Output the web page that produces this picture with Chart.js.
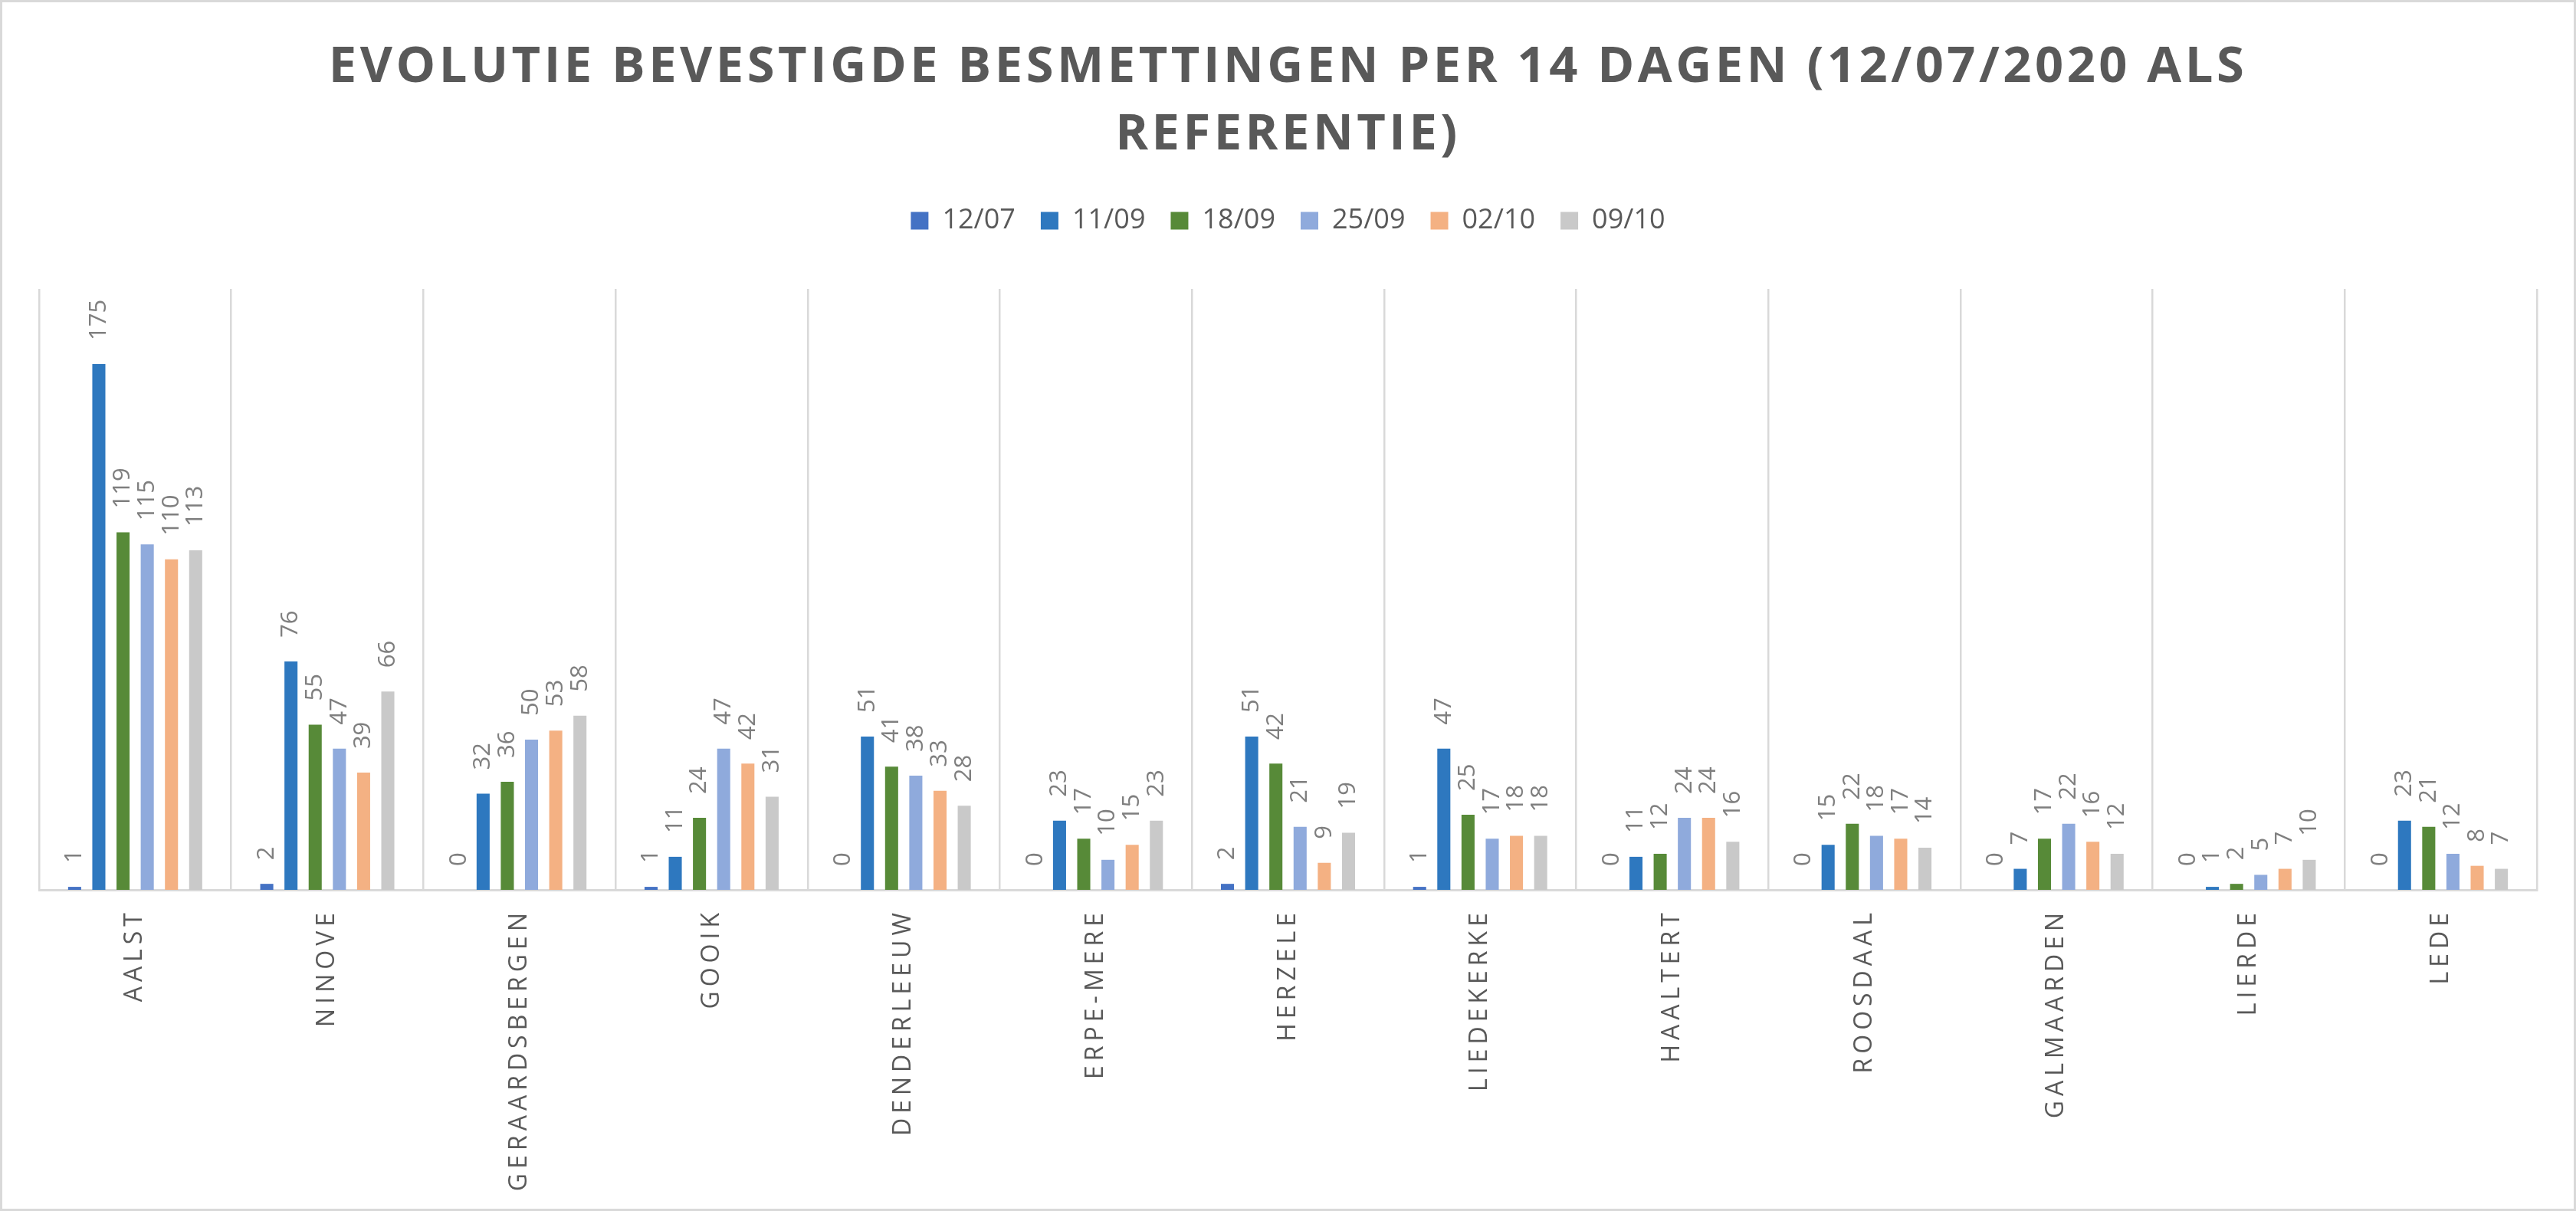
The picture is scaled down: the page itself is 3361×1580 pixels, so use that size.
<!DOCTYPE html>
<html>
<head>
<meta charset="utf-8">
<script src="https://cdn.jsdelivr.net/npm/chart.js@4.4.1/dist/chart.umd.min.js"></script>
<style>
  html, body { margin: 0; padding: 0; background: #fff; }
  #wrap { width: 3361px; height: 1580px; }
</style>
</head>
<body>
<div id="wrap"><canvas id="chart" width="3361" height="1580"></canvas></div>
<script>
// Titel en categorieën
const titelRegels = ['EVOLUTIE BEVESTIGDE BESMETTINGEN PER 14 DAGEN (12/07/2020 ALS', 'REFERENTIE)']
const gemeenten = ['AALST', 'NINOVE', 'GERAARDSBERGEN', 'GOOIK', 'DENDERLEEUW', 'ERPE-MERE', 'HERZELE',
  'LIEDEKERKE', 'HAALTERT', 'ROOSDAAL', 'GALMAARDEN', 'LIERDE', 'LEDE']
const datums = ['12/07', '11/09', '18/09', '25/09', '02/10', '09/10']

// Bevestigde besmettingen per 14 dagen, per gemeente
const d1207 = [1, 2, 0, 1, 0, 0, 2, 1, 0, 0, 0, 0, 0]
const d1109 = [175, 76, 32, 11, 51, 23, 51, 47, 11, 15, 7, 1, 23]
const d1809 = [119, 55, 36, 24, 41, 17, 42, 25, 12, 22, 17, 2, 21]
const d2509 = [115, 47, 50, 47, 38, 10, 21, 17, 24, 18, 22, 5, 12]
const d0210 = [110, 39, 53, 42, 33, 15, 9, 18, 24, 17, 16, 7, 8]
const d0910 = [113, 66, 58, 31, 28, 23, 19, 18, 16, 14, 12, 10, 7]

const reeksen = [d1207, d1109, d1809, d2509, d0210, d0910]
const kleuren = ['#4472c4', '#2e78bf', '#578a38', '#8faadc', '#f4b183', '#c9c9c9']

const W = 3361
const H = 1580

/**
 * Draws what Chart.js has no option for: rotated value labels above the bars,
 * letter-spaced category labels, the letter-spaced title and the outer frame.
 */
const tekstPlugin = {
  id: 'tekst',
  afterDatasetsDraw (chart) {
    const ctx = chart.ctx
    ctx.save()
    ctx.fillStyle = '#7f7f7f'
    ctx.font = '31px "Open Sans"'
    ctx.textAlign = 'left'
    ctx.textBaseline = 'middle'
    chart.data.datasets.forEach((ds, i) => {
      chart.getDatasetMeta(i).data.forEach((bar, j) => {
        ctx.save()
        ctx.translate(bar.x, bar.y - 31)
        ctx.rotate(-Math.PI / 2)
        ctx.fillText(String(ds.data[j]), 0, 0)
        ctx.restore()
      })
    })
    ctx.restore()
  },
  afterDraw (chart) {
    const ctx = chart.ctx
    const xScale = chart.scales.x

    // Category labels, rotated and spaced out
    ctx.save()
    ctx.fillStyle = '#595959'
    ctx.font = '32px "Open Sans"'
    ctx.letterSpacing = '6px'
    ctx.textAlign = 'right'
    ctx.textBaseline = 'middle'
    gemeenten.forEach((naam, i) => {
      ctx.save()
      ctx.translate(xScale.getPixelForValue(i), chart.chartArea.bottom + 24)
      ctx.rotate(-Math.PI / 2)
      ctx.fillText(naam, 0, 0)
      ctx.restore()
    })
    ctx.restore()

    // Title
    ctx.save()
    ctx.fillStyle = '#595959'
    ctx.font = 'bold 65px "Open Sans"'
    ctx.letterSpacing = '4.5px'
    ctx.textAlign = 'center'
    ctx.textBaseline = 'alphabetic'
    ctx.fillText(titelRegels[0], W / 2, 107)
    ctx.fillText(titelRegels[1], W / 2, 195)
    ctx.restore()

    // Frame round the whole chart
    ctx.save()
    ctx.strokeStyle = '#d9d9d9'
    ctx.lineWidth = 3
    ctx.strokeRect(1.5, 1.5, W - 3, H - 3)
    ctx.restore()
  }
}

Chart.defaults.font.family = '"Open Sans"'

new Chart(document.getElementById('chart').getContext('2d'), {
  type: 'bar',
  data: {
    labels: gemeenten,
    datasets: reeksen.map((reeks, i) => ({
      label: datums[i],
      data: reeks,
      backgroundColor: kleuren[i],
      borderWidth: 0,
      categoryPercentage: 0.756,
      barPercentage: 0.54
    }))
  },
  options: {
    responsive: false,
    animation: false,
    devicePixelRatio: 1,
    layout: { padding: { left: 51, right: 51, top: 237, bottom: 0 } },
    plugins: {
      title: { display: false },
      tooltip: { enabled: false },
      legend: {
        display: true,
        position: 'top',
        labels: {
          boxWidth: 23,
          boxHeight: 23,
          padding: 33,
          color: '#595959',
          font: { size: 36 }
        }
      }
    },
    scales: {
      x: {
        position: 'bottom',
        grid: { display: true, offset: true, color: '#d9d9d9', lineWidth: 2.5, drawTicks: false },
        border: { display: true, color: '#d9d9d9', width: 3 },
        ticks: { display: false },
        afterFit: (scale) => { scale.height = 419 }
      },
      xBoven: {
        type: 'category',
        position: 'top',
        grid: { display: false },
        border: { display: false },
        ticks: { display: false },
        afterFit: (scale) => { scale.height = 61 }
      },
      y: {
        display: false,
        min: 0,
        max: 200
      }
    }
  },
  plugins: [tekstPlugin]
})
</script>
</body>
</html>
